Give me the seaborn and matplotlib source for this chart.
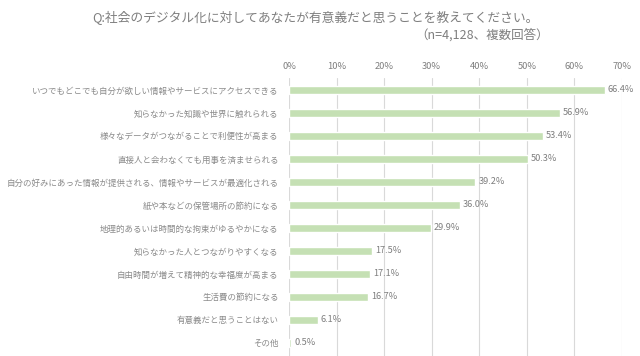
import pandas as pd
import matplotlib.pyplot as plt
import seaborn as sns

# Data
items = [
    "いつでもどこでも自分が欲しい情報やサービスにアクセスできる",
    "知らなかった知識や世界に触れられる",
    "様々なデータがつながることで利便性が高まる",
    "直接人と会わなくても用事を済ませられる",
    "自分の好みにあった情報が提供される、情報やサービスが最適化される",
    "紙や本などの保管場所の節約になる",
    "地理的あるいは時間的な拘束がゆるやかになる",
    "知らなかった人とつながりやすくなる",
    "自由時間が増えて精神的な幸福度が高まる",
    "生活費の節約になる",
    "有意義だと思うことはない",
    "その他",
]
pct = [66.4, 56.9, 53.4, 50.3, 39.2, 36.0, 29.9, 17.5, 17.1, 16.7, 6.1, 0.5]
xticks = [0, 10, 20, 30, 40, 50, 60, 70]

df = pd.DataFrame({"item": items, "pct": pct})

sns.set_theme(style="white")
plt.rcParams['font.family'] = ['Noto Sans CJK JP', 'DejaVu Sans']

txt = "#7f7f7f"
fig = plt.figure(figsize=(6.4, 3.56), dpi=100)
ax = fig.add_axes([289 / 640, 0, 333 / 640, (356 - 78) / 356])

sns.barplot(data=df, x="pct", y="item", orient="h", color="#c5e0b4",
            saturation=1, width=0.36, ax=ax)

ax.set_xlim(0, 70)
ax.set_ylim(11.57, -0.52)
ax.set_xticks(xticks)
ax.set_xticklabels([f"{t}%" for t in xticks], fontsize=6.7, color=txt)
ax.xaxis.tick_top()
ax.tick_params(axis="x", length=0, pad=5)
ax.tick_params(axis="y", length=0, pad=7.5, labelsize=6.1, labelcolor="#8a8a8a")
ax.set_xlabel("")
ax.set_ylabel("")
ax.grid(axis="x", color="#d9d9d9", linewidth=0.8)
ax.set_axisbelow(True)
for s in ax.spines.values():
    s.set_visible(False)

for i, v in enumerate(pct):
    ax.text(v + 0.6, i, f"{v:.1f}%", va="center", ha="left",
            fontsize=6.6, color=txt)

fig.text(315 / 640, 1 - 18 / 356,
         "Q:社会のデジタル化に対してあなたが有意義だと思うことを教えてください。",
         ha="center", va="center", fontsize=9.2, color="#7f7f7f")
fig.text(549 / 640, 1 - 35 / 356, "（n=4,128、複数回答）",
         ha="right", va="center", fontsize=9.0, color="#7f7f7f")

fig.savefig("out.png", dpi=100)
